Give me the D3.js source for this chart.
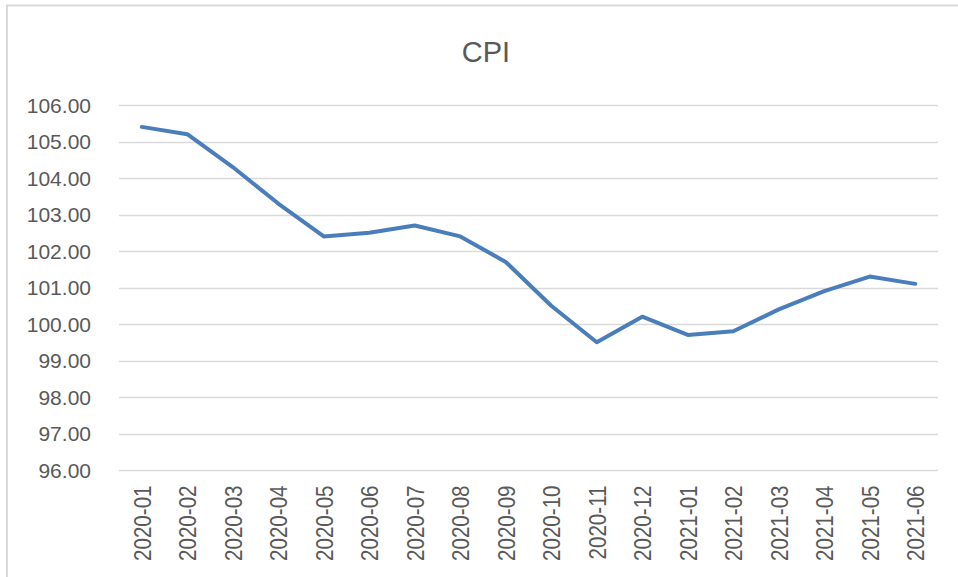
<!DOCTYPE html>
<html>
<head>
<meta charset="utf-8">
<script src="https://cdn.jsdelivr.net/npm/d3@7"></script>
<style>
	body { margin: 0; background: #fff; }
	svg { display: block; }
</style>
</head>
<body>
<script>
var months = ['2020-01', '2020-02', '2020-03', '2020-04', '2020-05', '2020-06', '2020-07', '2020-08', '2020-09',
	'2020-10', '2020-11', '2020-12', '2021-01', '2021-02', '2021-03', '2021-04', '2021-05', '2021-06'];
var cpi = [105.4, 105.2, 104.3, 103.3, 102.4, 102.5, 102.7, 102.4, 101.7,
	100.5, 99.5, 100.2, 99.7, 99.8, 100.4, 100.9, 101.3, 101.1];
var yTicks = [96, 97, 98, 99, 100, 101, 102, 103, 104, 105, 106];
var title = 'CPI';

// ---------------------------- d3 -----------------------------------

var svgWidth = 958;
var svgHeight = 577;
var plot = { left: 119, right: 938, top: 105, bottom: 470 };
var textColor = '#595959';
var font = 'Liberation Sans, Arial, sans-serif';

var svg = d3.select('body').append('svg').attr('width', svgWidth).attr('height', svgHeight);

// chart frame (only top and left edges are visible, the rest is cropped)
svg.append('line').attr('x1', 6).attr('x2', svgWidth).attr('y1', 5.5).attr('y2', 5.5)
	.attr('stroke', '#d9d9d9').attr('stroke-width', 2);
svg.append('line').attr('x1', 7).attr('x2', 7).attr('y1', 5).attr('y2', svgHeight)
	.attr('stroke', '#d9d9d9').attr('stroke-width', 2);

var x = d3.scalePoint().domain(months).range([plot.left, plot.right]).padding(0.5);
var y = d3.scaleLinear().domain([96, 106]).range([plot.bottom, plot.top]);

// gridlines
svg.append('g').selectAll('line').data(yTicks).enter().append('line')
	.attr('x1', plot.left).attr('x2', plot.right)
	.attr('y1', function(d) {
		return Math.round(y(d)) + 0.5;
	}).attr('y2', function(d) {
		return Math.round(y(d)) + 0.5;
	}).attr('stroke', '#d9d9d9').attr('stroke-width', 1.3);

// y axis labels
var yAxis = d3.axisLeft(y).tickValues(yTicks).tickSize(0).tickPadding(0).tickFormat(d3.format('.2f'));
var yG = svg.append('g').attr('transform', 'translate(91,0)').call(yAxis);
yG.select('.domain').remove();
yG.selectAll('text').attr('fill', textColor).attr('font-size', '21px').attr('font-family', font).attr('dy', '0.35em');

// x axis labels
var xAxis = d3.axisBottom(x).tickSize(0).tickPadding(0);
var xG = svg.append('g').attr('transform', 'translate(0,' + plot.bottom + ')').call(xAxis);
xG.select('.domain').remove();
xG.selectAll('text').attr('fill', textColor).attr('font-size', '20px').attr('font-family', font)
	.attr('text-anchor', 'end').attr('dy', '0.36em').attr('y', 0).attr('x', -15)
	.attr('transform', 'rotate(-90) scale(1.03,1.2)');

// line
var line = d3.line().x(function(d, i) {
	return x(months[i]);
}).y(function(d) {
	return y(d);
});
svg.append('path').datum(cpi).attr('d', line).attr('fill', 'none')
	.attr('stroke', '#4a7ebb').attr('stroke-width', 4).attr('stroke-linejoin', 'round').attr('stroke-linecap', 'round');

// title
svg.append('text').attr('x', 486).attr('y', 62).attr('text-anchor', 'middle').text(title)
	.attr('font-size', '29px').attr('fill', textColor).attr('font-family', font);
</script>
</body>
</html>
